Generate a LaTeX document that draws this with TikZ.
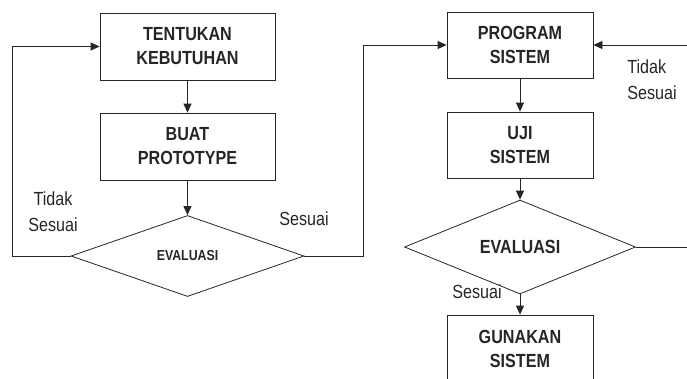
\documentclass[tikz,border=0pt]{standalone}
\usepackage{fontspec}
\setmainfont{Liberation Sans}[FakeStretch=0.85]
\usetikzlibrary{shapes.geometric,arrows.meta}

\begin{document}
\begin{tikzpicture}[x=1pt,y=-1pt,line width=0.8pt,color=black!85,
    >={Triangle[length=9pt,width=8pt]},node distance={100pt},
    box/.style={draw,align=center,inner sep=0pt,font=\fontsize{19}{24}\selectfont\bfseries},
    dec/.style={draw,diamond,inner sep=0pt,font=\fontsize{14.5}{18}\selectfont\bfseries},
    lbl/.style={align=center,inner sep=0pt,font=\fontsize{19}{26}\selectfont}]
  \useasboundingbox (0,0) rectangle (687,378);
  \node[box,minimum width=175pt,minimum height=67pt](t) at (187.5,46.5){TENTUKAN\\KEBUTUHAN};
  \node[box,minimum width=175pt,minimum height=67pt](b)[below of=t]{BUAT\\PROTOTYPE};
  \node[dec,minimum width=233pt,minimum height=81pt](e1)[below of=b,node distance=109.5pt]{EVALUASI};
  \node[box,minimum width=146pt,minimum height=66pt](p) at (520,45){PROGRAM\\SISTEM};
  \node[box,minimum width=146pt,minimum height=66pt](u)[below of=p]{UJI\\SISTEM};
  \node[dec,minimum width=231pt,minimum height=67pt,font=\fontsize{19}{24}\selectfont\bfseries](e2)[below of=u,node distance=102pt]{EVALUASI};
  \node[box,minimum width=146pt,minimum height=67pt](g)[below of=e2,node distance=101.5pt]{GUNAKAN\\SISTEM};
  \node[lbl](l1) at (53,212){Tidak\\Sesuai};
  \node[lbl](l2) at (304,219){Sesuai};
  \node[lbl,align=left](l3) at (652,80){Tidak\\Sesuai};
  \node[lbl](l4) at (477,292){Sesuai};
  \coordinate (c1) at (12,256);
  \coordinate (c2) at (363,256);
  \coordinate (c3) at (700,247);
  \draw[->](t) -- (b);
  \draw[->](b) -- (e1);
  \draw[->](e1.west) -- (c1) |- (t.west);
  \draw[->](e1.east) -- (c2) |- (p.west);
  \draw[->](p) -- (u);
  \draw[->](u) -- (e2);
  \draw[->](e2) -- (g);
  \draw[->](e2.east) -- (c3) |- (p.east);
\end{tikzpicture}
\end{document}
